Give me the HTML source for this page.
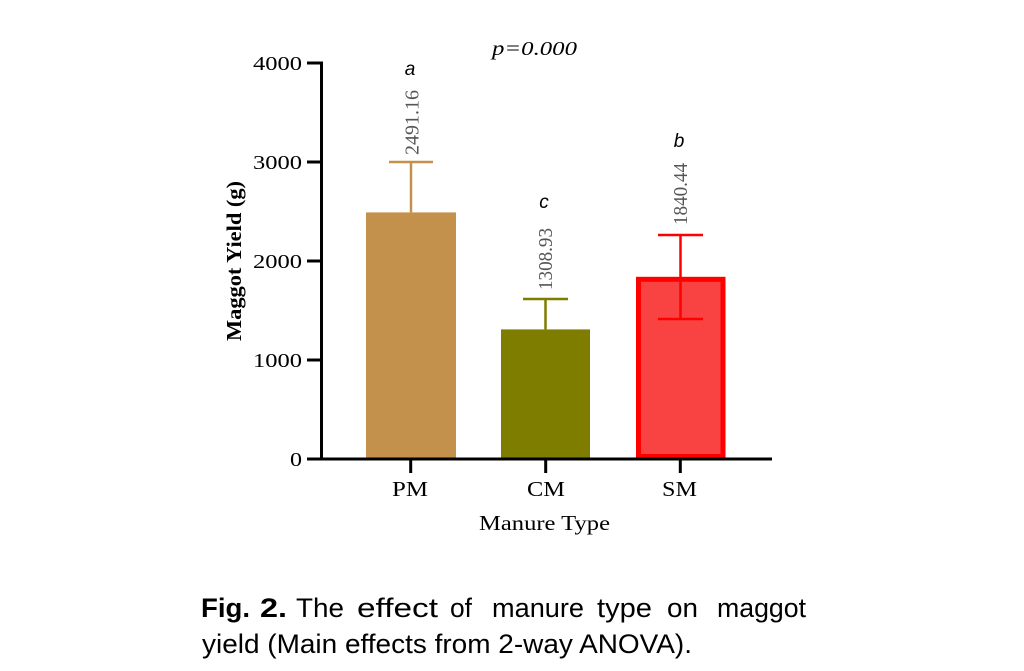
<!DOCTYPE html>
<html>
<head>
<meta charset="utf-8">
<style>
  html,body{margin:0;padding:0;background:#fff;}
  svg{display:block;}
</style>
</head>
<body>
<svg width="1024" height="671" viewBox="0 0 1024 671" xmlns="http://www.w3.org/2000/svg">
  <rect x="0" y="0" width="1024" height="671" fill="#ffffff"/>

  <!-- Bars -->
  <rect x="366" y="212.4" width="90" height="246.6" fill="#C4914D"/>
  <rect x="501" y="329.4" width="89" height="129.6" fill="#7E7D00"/>
  <rect x="638.5" y="279.3" width="84.5" height="177.2" fill="#F94343" stroke="#FF0000" stroke-width="5"/>

  <!-- Error bars -->
  <g stroke-width="2.5" fill="none">
    <line x1="411" y1="212.4" x2="411" y2="162" stroke="#C4914D"/>
    <line x1="389" y1="162" x2="433" y2="162" stroke="#C4914D"/>
    <line x1="545.5" y1="329.4" x2="545.5" y2="299" stroke="#7E7D00"/>
    <line x1="523" y1="299" x2="568" y2="299" stroke="#7E7D00"/>
    <line x1="680.5" y1="235" x2="680.5" y2="319" stroke="#FF0000"/>
    <line x1="658" y1="235" x2="703" y2="235" stroke="#FF0000"/>
    <line x1="658" y1="319" x2="703" y2="319" stroke="#FF0000"/>
  </g>

  <!-- Axes -->
  <g stroke="#000" stroke-width="3" fill="none">
    <line x1="321.5" y1="61.5" x2="321.5" y2="460.5"/>
    <line x1="307" y1="459" x2="772" y2="459"/>
    <line x1="307" y1="63" x2="321.5" y2="63"/>
    <line x1="307" y1="162" x2="321.5" y2="162"/>
    <line x1="307" y1="261" x2="321.5" y2="261"/>
    <line x1="307" y1="360" x2="321.5" y2="360"/>
    <line x1="410.7" y1="459" x2="410.7" y2="473"/>
    <line x1="545.7" y1="459" x2="545.7" y2="473"/>
    <line x1="680.3" y1="459" x2="680.3" y2="473"/>
  </g>

  <!-- Y tick labels -->
  <g font-family="'Liberation Serif', serif" font-size="20" fill="#000">
    <text x="253" y="70" textLength="49" lengthAdjust="spacingAndGlyphs">4000</text>
    <text x="253" y="169" textLength="49" lengthAdjust="spacingAndGlyphs">3000</text>
    <text x="253" y="268" textLength="49" lengthAdjust="spacingAndGlyphs">2000</text>
    <text x="253" y="367" textLength="49" lengthAdjust="spacingAndGlyphs">1000</text>
    <text x="290" y="466" textLength="12" lengthAdjust="spacingAndGlyphs">0</text>
  </g>

  <!-- Y axis title -->
  <text transform="translate(241,261) rotate(-90)" text-anchor="middle" font-family="'Liberation Serif', serif" font-weight="bold" font-size="21" fill="#000" textLength="160" lengthAdjust="spacingAndGlyphs">Maggot Yield (g)</text>

  <!-- X tick labels -->
  <g font-family="'Liberation Serif', serif" font-size="21" fill="#000">
    <text x="392" y="496" textLength="36" lengthAdjust="spacingAndGlyphs">PM</text>
    <text x="527" y="496" textLength="38" lengthAdjust="spacingAndGlyphs">CM</text>
    <text x="662" y="496" textLength="35" lengthAdjust="spacingAndGlyphs">SM</text>
    <text x="479" y="530" textLength="131" lengthAdjust="spacingAndGlyphs">Manure Type</text>
  </g>

  <!-- p value -->
  <text x="492" y="55" font-family="'Liberation Serif', serif" font-style="italic" font-size="20" fill="#000" textLength="85" lengthAdjust="spacingAndGlyphs">p=0.000</text>

  <!-- significance letters -->
  <g font-family="'Liberation Sans', sans-serif" font-style="italic" font-size="19" fill="#000" text-anchor="middle">
    <text x="410" y="75">a</text>
    <text x="544" y="208">c</text>
    <text x="679" y="147">b</text>
  </g>

  <!-- value labels (rotated) -->
  <g font-family="'Liberation Serif', serif" font-size="20" fill="#555555" text-anchor="middle">
    <text transform="translate(418.5,122.5) rotate(-90)" textLength="65" lengthAdjust="spacingAndGlyphs">2491.16</text>
    <text transform="translate(552,259) rotate(-90)" textLength="62" lengthAdjust="spacingAndGlyphs">1308.93</text>
    <text transform="translate(687,194) rotate(-90)" textLength="62" lengthAdjust="spacingAndGlyphs">1840.44</text>
  </g>

  <!-- Caption -->
  <g font-family="'Liberation Sans', sans-serif" font-size="27" fill="#000">
    <text x="201" y="617" font-weight="bold" textLength="49" lengthAdjust="spacingAndGlyphs">Fig.</text>
    <text x="260" y="617" font-weight="bold" textLength="27" lengthAdjust="spacingAndGlyphs">2.</text>
    <text x="296" y="617" textLength="48" lengthAdjust="spacingAndGlyphs">The</text>
    <text x="357" y="617" textLength="81" lengthAdjust="spacingAndGlyphs">effect</text>
    <text x="450" y="617" textLength="22" lengthAdjust="spacingAndGlyphs">of</text>
    <text x="492" y="617" textLength="92" lengthAdjust="spacingAndGlyphs">manure</text>
    <text x="597" y="617" textLength="55" lengthAdjust="spacingAndGlyphs">type</text>
    <text x="667" y="617" textLength="31" lengthAdjust="spacingAndGlyphs">on</text>
    <text x="717" y="617" textLength="89" lengthAdjust="spacingAndGlyphs">maggot</text>
    <text x="202" y="653" textLength="490" lengthAdjust="spacingAndGlyphs">yield (Main effects from 2-way ANOVA).</text>
  </g>
</svg>
</body>
</html>
